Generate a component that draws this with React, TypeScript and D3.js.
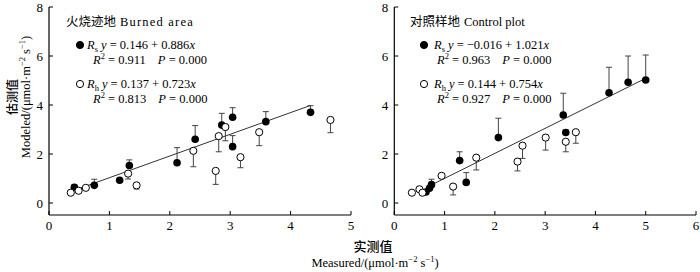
import React from "react";
import * as d3 from "d3";

// ---- Data ----
const burnedRsX = [0.42, 0.75, 1.17, 1.33, 2.12, 2.42, 2.86, 3.04, 3.04, 3.59, 4.33];
const burnedRsY = [0.64, 0.72, 0.93, 1.53, 1.64, 2.6, 3.18, 3.5, 2.3, 3.32, 3.7];
const burnedRsErr = [0.1, 0.25, 0.05, 0.23, 0.62, 0.56, 0.48, 0.39, 0.45, 0.41, 0.27];
const burnedRhX = [0.36, 0.49, 0.61, 1.31, 1.45, 2.39, 2.76, 2.81, 2.92, 3.17, 3.48, 4.66];
const burnedRhY = [0.42, 0.5, 0.62, 1.2, 0.72, 2.13, 1.31, 2.73, 3.1, 1.87, 2.89, 3.39];
const burnedRhErr = [0.03, 0.05, 0.08, 0.22, 0.15, 0.65, 0.55, 0.64, 0.56, 0.43, 0.55, 0.52];

const controlRsX = [0.63, 0.7, 0.74, 1.3, 1.43, 2.07, 3.36, 3.41, 4.27, 4.65, 5.0];
const controlRsY = [0.45, 0.6, 0.75, 1.73, 0.84, 2.67, 3.59, 2.88, 4.5, 4.93, 5.02];
const controlRsErr = [0.05, 0.05, 0.22, 0.36, 0.4, 0.79, 0.89, 0.1, 1.04, 1.07, 1.02];
const controlRhX = [0.35, 0.5, 0.56, 0.94, 1.17, 1.63, 2.45, 2.55, 3.01, 3.41, 3.61];
const controlRhY = [0.42, 0.56, 0.42, 1.11, 0.67, 1.85, 1.69, 2.34, 2.67, 2.5, 2.89];
const controlRhErr = [0.03, 0.03, 0.05, 0.05, 0.34, 0.5, 0.38, 0.52, 0.51, 0.41, 0.45];

// regression: [intercept, slope]
const burnedRsFit = [0.146, 0.886];
const controlRsFit = [-0.016, 1.021];

const burnedTicksX = [0, 1, 2, 3, 4, 5];
const controlTicksX = [0, 1, 2, 3, 4, 5, 6];
const ticksY = [0, 2, 4, 6, 8];

const burnedTitleCn = "火烧迹地";
const burnedTitleEn = "Burned area";
const controlTitleCn = "对照样地";
const controlTitleEn = "Control plot";
const burnedRsEq = ["0.146 + 0.886", "0.911", "0.000"];
const burnedRhEq = ["0.137 + 0.723", "0.813", "0.000"];
const controlRsEq = ["\u22120.016 + 1.021", "0.963", "0.000"];
const controlRhEq = ["0.144 + 0.754", "0.927", "0.000"];

const FONT = "'Liberation Serif','Times New Roman','Noto Sans CJK SC',serif";
const CJK = "'Noto Sans CJK SC','Liberation Serif',sans-serif";

const yScale = d3.scaleLinear().domain([0, 8]).range([203, 7]);
const yBottom = yScale(-0.49);

function EqBlock({ x0, y0, sub, eq, filled, eqDx }) {
  const mx = x0 + 14;
  return (
    <g fontFamily={FONT} fontSize={12.5} fill="#000">
      <circle
        cx={mx}
        cy={y0 - 4}
        r={3.6}
        fill={filled ? "#000" : "#fff"}
        stroke="#000"
        strokeWidth={1}
      />
      <text x={mx + eqDx} y={y0}>
        <tspan fontStyle="italic">R</tspan>
        <tspan fontSize={8.5} dy={3}>{sub}</tspan>
        <tspan dy={-3} dx={3} fontStyle="italic">y</tspan>
        <tspan>{" = " + eq[0]}</tspan>
        <tspan fontStyle="italic">x</tspan>
      </text>
      <text x={x0 + 27} y={y0 + 15}>
        <tspan fontStyle="italic">R</tspan>
        <tspan fontSize={8.5} dy={-5}>2</tspan>
        <tspan dy={5}>{" = " + eq[1]}</tspan>
        <tspan dx={12} fontStyle="italic">P</tspan>
        <tspan>{" = " + eq[2]}</tspan>
      </text>
    </g>
  );
}

function Panel({
  xMax,
  xRange,
  xTicks,
  rsX,
  rsY,
  rsErr,
  rhX,
  rhY,
  rhErr,
  fit,
  titleCn,
  titleEn,
  enSpacing,
  rsEq,
  rhEq,
  legendX,
  eqDx,
}) {
  const x = d3.scaleLinear().domain([0, xMax]).range(xRange);
  const rs = rsX.map((v, i) => ({ x: v, y: rsY[i], e: rsErr[i] }));
  const rh = rhX.map((v, i) => ({ x: v, y: rhY[i], e: rhErr[i] }));
  const [x1, x2] = d3.extent(rsX) as [number, number];
  const line = d3
    .line<number>()
    .x((d) => x(d))
    .y((d) => yScale(fit[0] + fit[1] * d));
  const capW = 3;
  return (
    <g>
      {/* axes */}
      <line x1={xRange[0]} x2={xRange[0]} y1={yBottom} y2={yScale(8)} stroke="#000" strokeWidth={1.2} />
      <line x1={xRange[0]} x2={xRange[1]} y1={yBottom} y2={yBottom} stroke="#000" strokeWidth={1.2} />
      {ticksY.map((t) => (
        <g key={"y" + t}>
          <line x1={xRange[0]} x2={xRange[0] + 4} y1={yScale(t)} y2={yScale(t)} stroke="#000" />
          <text
            x={xRange[0] - 6}
            y={yScale(t) + 4.5}
            textAnchor="end"
            fontFamily={FONT}
            fontSize={13}
          >
            {t}
          </text>
        </g>
      ))}
      {xTicks.map((t) => (
        <g key={"x" + t}>
          <line x1={x(t)} x2={x(t)} y1={yBottom} y2={yBottom - 4} stroke="#000" />
          <text x={x(t)} y={yBottom + 15} textAnchor="middle" fontFamily={FONT} fontSize={13}>
            {t}
          </text>
        </g>
      ))}
      {/* error bars */}
      {rs.map((d, i) => (
        <g key={"rse" + i} stroke="#444" strokeWidth={1}>
          <line x1={x(d.x)} x2={x(d.x)} y1={yScale(d.y)} y2={yScale(d.y + d.e)} />
          <line x1={x(d.x) - capW} x2={x(d.x) + capW} y1={yScale(d.y + d.e)} y2={yScale(d.y + d.e)} />
        </g>
      ))}
      {rh.map((d, i) => (
        <g key={"rhe" + i} stroke="#444" strokeWidth={1}>
          <line x1={x(d.x)} x2={x(d.x)} y1={yScale(d.y)} y2={yScale(d.y - d.e)} />
          <line x1={x(d.x) - capW} x2={x(d.x) + capW} y1={yScale(d.y - d.e)} y2={yScale(d.y - d.e)} />
        </g>
      ))}
      {/* fit line */}
      <path d={line([x1, x2]) || ""} stroke="#333" strokeWidth={1} fill="none" />
      {rs.map((d, i) => (
        <circle key={"rs" + i} cx={x(d.x)} cy={yScale(d.y)} r={3.8} fill="#000" />
      ))}
      {rh.map((d, i) => (
        <circle
          key={"rh" + i}
          cx={x(d.x)}
          cy={yScale(d.y)}
          r={3.6}
          fill="#fff"
          stroke="#000"
          strokeWidth={1}
        />
      ))}
      {/* legend */}
      <text x={legendX} y={26} fontSize={12.5}>
        <tspan fontFamily={CJK}>{titleCn}</tspan>
        <tspan fontFamily={FONT} dx={4} letterSpacing={enSpacing}>
          {titleEn}
        </tspan>
      </text>
      <EqBlock x0={legendX} y0={49} sub="s" eq={rsEq} filled={true} eqDx={eqDx} />
      <EqBlock x0={legendX} y0={88} sub="h" eq={rhEq} filled={false} eqDx={eqDx} />
    </g>
  );
}

export default function App() {
  return (
    <svg
      width={700}
      height={272}
      style={{ position: "absolute", left: 0, top: 0, background: "#fff" }}
    >
      <rect width={700} height={272} fill="#fff" />
      <Panel
        xMax={5}
        xRange={[49, 351]}
        xTicks={burnedTicksX}
        rsX={burnedRsX}
        rsY={burnedRsY}
        rsErr={burnedRsErr}
        rhX={burnedRhX}
        rhY={burnedRhY}
        rhErr={burnedRhErr}
        fit={burnedRsFit}
        titleCn={burnedTitleCn}
        titleEn={burnedTitleEn}
        enSpacing={1.2}
        rsEq={burnedRsEq}
        rhEq={burnedRhEq}
        legendX={66}
        eqDx={7}
      />
      <Panel
        xMax={6}
        xRange={[394.3, 696]}
        xTicks={controlTicksX}
        rsX={controlRsX}
        rsY={controlRsY}
        rsErr={controlRsErr}
        rhX={controlRhX}
        rhY={controlRhY}
        rhErr={controlRhErr}
        fit={controlRsFit}
        titleCn={controlTitleCn}
        titleEn={controlTitleEn}
        enSpacing={0}
        rsEq={controlRsEq}
        rhEq={controlRhEq}
        legendX={410}
        eqDx={10}
      />
      {/* axis titles */}
      <text
        transform="translate(11,97) rotate(-90)"
        textAnchor="middle"
        dominantBaseline="central"
        fontFamily={CJK}
        fontSize={12}
        fontWeight={500}
      >
        估测值
      </text>
      <text
        transform="translate(30,97) rotate(-90)"
        textAnchor="middle"
        fontFamily={FONT}
        fontSize={12.5}
      >
        <tspan>Modeled/(μmol·m</tspan>
        <tspan fontSize={8.5} dy={-5}>−2</tspan>
        <tspan dy={5}> s</tspan>
        <tspan fontSize={8.5} dy={-5}>−1</tspan>
        <tspan dy={5}>)</tspan>
      </text>
      <text x={373} y={251} textAnchor="middle" fontFamily={CJK} fontSize={13} fontWeight={500}>
        实测值
      </text>
      <text x={375} y={267} textAnchor="middle" fontFamily={FONT} fontSize={12.5}>
        <tspan>Measured/(μmol·m</tspan>
        <tspan fontSize={8.5} dy={-5}>−2</tspan>
        <tspan dy={5}> s</tspan>
        <tspan fontSize={8.5} dy={-5}>−1</tspan>
        <tspan dy={5}>)</tspan>
      </text>
    </svg>
  );
}
